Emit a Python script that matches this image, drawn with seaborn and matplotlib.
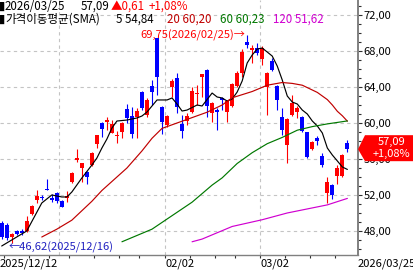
import matplotlib
matplotlib.use("Agg")
import matplotlib.pyplot as plt
import matplotlib.ticker as mticker
from matplotlib.patches import Polygon
from matplotlib.transforms import IdentityTransform
import seaborn as sns
import pandas as pd
import numpy as np

# ---------------- data ----------------
opens = [48.89, 48.67, 47.33, 48.03, 48.03, 48.03, 49.89, 51.44, 51.81, 52.67,
         51.70, 52.22, 51.37, 51.67, 53.44, 55.89, 55.00, 54.56, 55.33, 57.67,
         60.00, 60.11, 58.89, 58.56, 59.00, 61.56, 60.78, 60.67, 63.44, 60.89,
         64.11, 69.44, 61.78, 59.78, 64.00, 65.00, 59.89, 60.22, 61.22, 63.22,
         65.11, 65.89, 61.11, 61.44, 62.78, 61.22, 61.89, 64.11, 65.56, 69.00,
         68.11, 68.33, 67.11, 64.00, 66.89, 64.11, 60.67, 57.56, 60.89, 61.22,
         60.67, 59.00, 57.11, 58.33, 56.33, 52.22, 53.11, 54.11, 54.11, 57.78]
highs = [49.11, 48.89, 47.78, 48.11, 48.20, 49.67, 50.89, 52.56, 52.00, 53.78,
         52.10, 52.33, 51.44, 52.44, 54.59, 57.11, 55.60, 54.67, 56.78, 58.70,
         60.11, 60.67, 60.33, 59.11, 60.11, 62.11, 61.78, 61.67, 63.56, 62.78,
         64.78, 69.50, 61.89, 60.89, 64.89, 65.56, 60.89, 61.11, 64.00, 64.22,
         65.44, 66.00, 62.30, 61.67, 62.89, 62.56, 64.44, 65.78, 68.22, 69.75,
         68.67, 68.89, 68.56, 65.67, 67.22, 64.22, 61.67, 60.56, 63.11, 61.89,
         60.78, 59.00, 58.00, 58.56, 56.67, 54.00, 53.22, 55.33, 56.56, 58.11]
lows = [47.11, 47.00, 46.62, 47.56, 47.60, 47.89, 49.78, 51.11, 51.44, 52.50,
        51.26, 51.15, 50.63, 51.26, 53.33, 55.67, 53.44, 53.22, 55.22, 57.22,
        58.44, 59.22, 58.89, 57.78, 58.33, 60.00, 58.33, 58.33, 61.44, 60.67,
        62.00, 63.11, 58.78, 59.56, 62.89, 61.11, 58.33, 59.78, 61.11, 62.00,
        62.89, 60.67, 60.11, 59.22, 61.44, 60.11, 61.78, 64.00, 65.11, 68.33,
        66.67, 67.56, 66.44, 60.89, 65.78, 61.44, 58.67, 55.56, 60.78, 60.56,
        59.00, 56.11, 57.00, 57.56, 55.11, 51.11, 51.56, 53.22, 54.00, 56.78]
closes = [47.33, 47.22, 47.67, 47.67, 47.74, 49.11, 50.78, 51.89, 51.70, 52.56,
          51.44, 51.37, 50.70, 51.89, 54.44, 56.11, 55.56, 54.00, 56.67, 58.67,
          59.33, 60.33, 59.89, 58.67, 60.00, 60.56, 58.78, 61.33, 61.67, 62.56,
          63.44, 65.11, 60.11, 60.78, 64.67, 61.78, 59.11, 60.78, 63.56, 63.33,
          65.44, 61.89, 62.20, 61.22, 62.56, 62.44, 64.33, 65.56, 67.89, 68.67,
          68.33, 67.78, 68.33, 65.56, 65.89, 62.56, 59.22, 60.44, 62.22, 61.67,
          59.11, 56.22, 57.89, 58.00, 55.33, 53.44, 52.00, 55.00, 56.48, 57.09]

sma5_idx = [0, 5, 8, 10, 12, 13, 14, 15, 16, 18, 19, 20, 21, 22, 23, 25, 27, 28, 29, 30,
            31, 33, 34, 35, 36, 37, 39, 40, 42, 43, 44, 45, 46, 47, 48, 49, 50, 51, 52, 53,
            54, 55, 56, 57, 58, 59, 60, 61, 62, 63, 64, 65, 66, 67, 68, 69]
sma5_val = [46.33, 48.00, 51.11, 52.00, 51.78, 51.78, 52.33, 53.11, 53.89, 55.33,
            56.11, 57.22, 58.22, 59.44, 60.22, 60.33, 60.56, 60.78, 61.22, 61.89,
            62.56, 62.56, 62.78, 62.11, 61.33, 61.44, 62.00, 61.89, 63.33, 62.89,
            62.78, 62.44, 62.67, 63.44, 64.67, 66.67, 67.56, 68.22, 68.33, 67.89,
            67.44, 66.33, 64.78, 63.00, 62.33, 62.11, 61.44, 61.00, 60.22, 59.67,
            58.89, 57.22, 56.44, 55.78, 55.11, 54.84]
sma20_idx = [8, 11, 14, 18, 20, 25, 28, 30, 32, 35, 38, 41, 44, 46, 50, 53, 56, 58, 60, 63,
             65, 66, 67, 68, 69]
sma20_val = [47.33, 48.2, 49.2, 51.3, 52.5, 55.0, 56.9, 58.3, 59.4, 60.0, 60.6, 61.2, 62.0,
             62.8, 63.5, 64.2, 64.5, 64.4, 64.2, 63.4, 62.6, 62.0, 61.3, 60.8, 60.20]
sma60_idx = [24, 30, 34, 38, 42, 44, 47, 50, 53, 56, 59, 62, 65, 69]
sma60_val = [46.8, 48.2, 49.7, 51.2, 53.1, 53.9, 55.5, 56.7, 57.7, 58.4, 59.2, 59.6, 59.9, 60.23]
sma120_idx = [38, 40, 46, 52, 57, 65, 69]
sma120_val = [46.8, 47.1, 48.5, 49.25, 50.0, 50.9, 51.62]

first_date = "2025/12/12"
last_date = "2026/03/25"
month_labels = ["02/02", "03/02"]
month_idx = [33, 52]
month_grid_idx = [12, 33, 52]
week_idx = [1, 6, 10, 14, 19, 24, 28, 33, 38, 43, 47, 52, 57, 62, 67]
high_idx, high_date = 49, "2026/02/25"
low_idx, low_date = 2, "2025/12/16"
ma_periods = [5, 20, 60, 120]
y_ticks = [48, 52, 56, 60, 64, 68, 72]

# ---------------- style ----------------
sns.set_theme(style="white")
plt.rcParams['font.family'] = ['Noto Sans CJK KR', 'DejaVu Sans']
plt.rcParams['axes.unicode_minus'] = False

UP, DN = '#ff0000', '#0000ff'
MA_COLORS = ['#000000', '#c00000', '#007800', '#d000d0']
GRID = '#c4c4c4'
W, H = 414, 273

def fmt(v):
    return f"{v:.2f}".replace('.', ',')

fig = plt.figure(figsize=(W / 100, H / 100), dpi=100)
fig.patch.set_facecolor('white')
ax = fig.add_axes([0, 18 / H, 358 / W, 255 / H])
ax.set_facecolor('white')

df = pd.DataFrame(dict(idx=np.arange(len(closes)), open=opens, high=highs,
                       low=lows, close=closes))
colors = np.where(df.close >= df.open, UP, DN)

# grid
for yv in y_ticks:
    ax.axhline(yv, color=GRID, lw=0.8, ls=(0, (3, 3)), zorder=1)
for xv in month_grid_idx:
    ax.axvline(xv - 0.5, color=GRID, lw=0.8, ls=(0, (3, 3)), zorder=1)

# candles
ax.vlines(df.idx, df.low, df.high, colors=colors, linewidth=0.8, zorder=3)
body_low = np.minimum(df.open, df.close)
body_h = np.maximum(np.abs(df.close - df.open), 0.12)
ax.bar(df.idx, body_h, bottom=body_low, width=0.78, color=colors, linewidth=0, zorder=4)

# moving averages
ma_data = [(sma5_idx, sma5_val), (sma20_idx, sma20_val),
           (sma60_idx, sma60_val), (sma120_idx, sma120_val)]
for (xi, yi), c in zip(ma_data, MA_COLORS):
    sns.lineplot(x=xi, y=yi, ax=ax, color=c, linewidth=0.85, zorder=5,
                 legend=False, estimator=None)

ax.set_xlim(-0.34, 71.12)
ax.set_ylim(45.33, 73.67)
ax.set_xlabel('')
ax.set_ylabel('')

# axes
for s in ['top', 'left']:
    ax.spines[s].set_visible(False)
ax.spines['right'].set_color('#808080')
ax.spines['right'].set_linewidth(1.4)
ax.spines['bottom'].set_color('#808080')
ax.spines['bottom'].set_linewidth(1.0)

ax.yaxis.tick_right()
ax.set_yticks(y_ticks)
ax.yaxis.set_major_formatter(mticker.FuncFormatter(lambda v, p: fmt(v)))
ax.yaxis.set_minor_locator(mticker.MultipleLocator(1))
ax.tick_params(axis='y', which='major', direction='out', length=3, width=0.8,
               color='#303030', labelsize=8, pad=1, labelcolor='black')
ax.tick_params(axis='y', which='minor', direction='out', length=2.5, width=0.8,
               color='#303030', right=True, left=False)

ax.set_xticks([w - 0.5 for w in week_idx])
ax.tick_params(axis='x', which='major', direction='out', length=2.5, width=0.8,
               color='#303030', labelbottom=False, bottom=True)

# x labels
lab_kw = dict(fontsize=8, color='black', va='top')
ax.annotate(first_date, xy=(0, 0), xycoords='axes fraction', xytext=(0, -2.5),
            textcoords='offset points', ha='left', **lab_kw)
for lab, i in zip(month_labels, month_idx):
    ax.annotate(lab, xy=(i - 0.5, 0), xycoords=('data', 'axes fraction'),
                xytext=(0.5, -2.5), textcoords='offset points', ha='left', **lab_kw)
ax.annotate(last_date, xy=(1, 0), xycoords='axes fraction', xytext=(0, -2.5),
            textcoords='offset points', ha='left', annotation_clip=False, **lab_kw)

# high / low markers
ax.text(high_idx - 0.35, highs[high_idx], f"{fmt(highs[high_idx])}({high_date})→",
        ha='right', va='center', color=UP, fontsize=8, zorder=6)
ax.text(low_idx - 0.7, lows[low_idx] + 0.15, f"←{fmt(lows[low_idx])}({low_date})",
        ha='left', va='top', color='#2020c0', fontsize=8, zorder=6)

# current price box on the right axis (drawn over the hidden 56,00 label)
last = closes[-1]
prev = closes[-2]
chg = last - prev
pct = chg / prev * 100
tip_x, tip_y = ax.transData.transform((ax.get_xlim()[1], last))
poly = Polygon([(tip_x, tip_y), (tip_x + 7, tip_y + 14), (W, tip_y + 14),
                (W, tip_y - 12), (tip_x + 7, tip_y - 12)], closed=True,
               facecolor='#ff0000', edgecolor='none', transform=IdentityTransform(),
               zorder=10)
fig.add_artist(poly)
fig.text((tip_x + 34) / W, (tip_y + 7) / H, fmt(last), color='white', fontsize=8,
         ha='center', va='center', zorder=11)
fig.text((tip_x + 33) / W, (tip_y - 5) / H, f"+{fmt(pct)}%", color='white', fontsize=8,
         ha='center', va='center', zorder=11)

# header
def htext(px, py, s, color='black', size=8.3):
    fig.text(px / W, 1 - py / H, s, color=color, fontsize=size, ha='left', va='center')

htext(-1, 6.5, "▮")
htext(5, 6.5, last_date)
htext(81, 6.5, fmt(last))
htext(111, 6.5, f"▲{fmt(chg)}", UP)
htext(149, 6.5, f"+{fmt(pct)}%", UP)
htext(-1, 19.5, "▮")
htext(5, 19.5, "가격이동평균(SMA)")
ma_last = [sma5_val[-1], sma20_val[-1], sma60_val[-1], sma120_val[-1]]
ma_x = [116, 167, 220, 273]
for p, v, c, xx in zip(ma_periods, ma_last, MA_COLORS, ma_x):
    htext(xx, 19.5, f"{p} {fmt(v)}", c)

fig.savefig("out.png", dpi=100, facecolor='white')
